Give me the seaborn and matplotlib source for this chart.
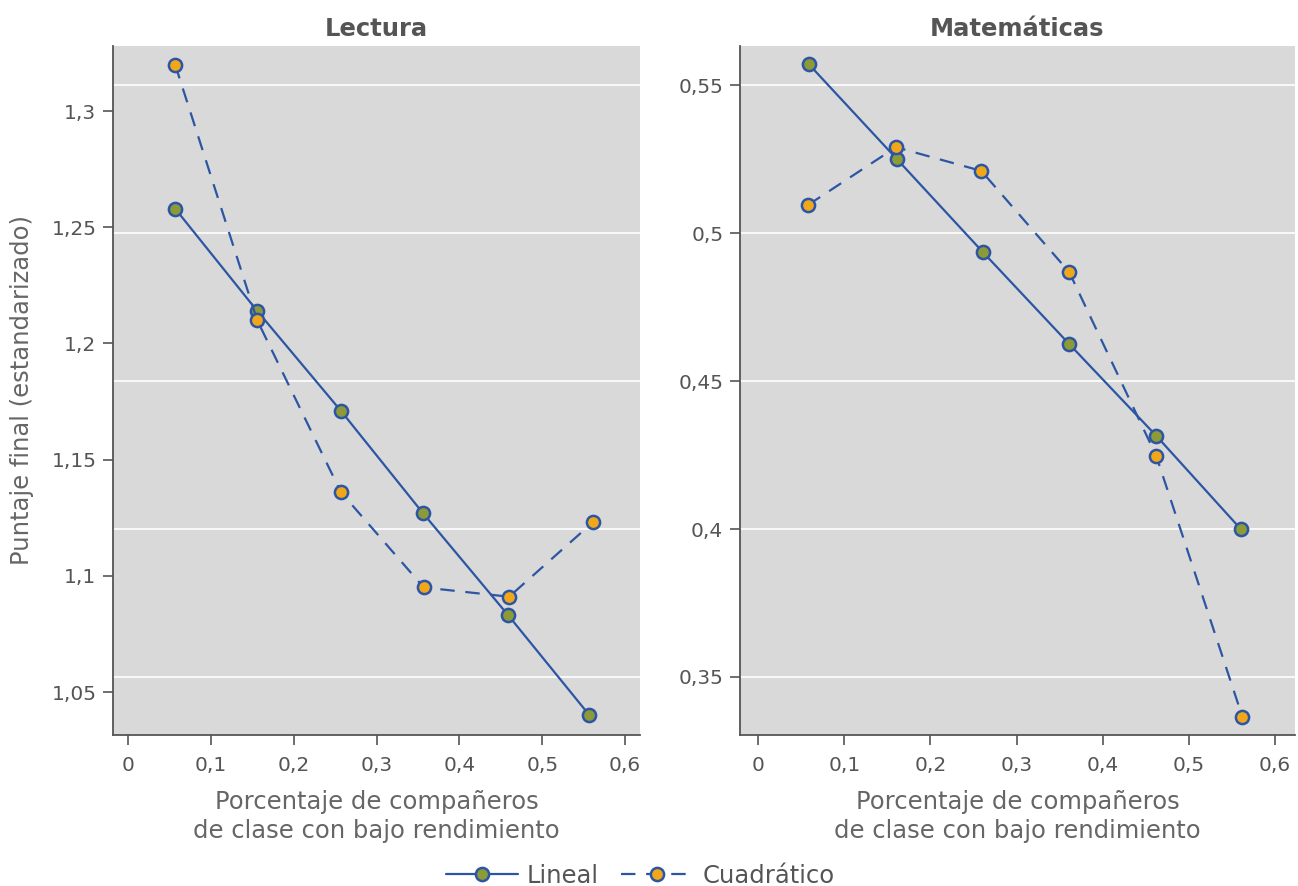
import matplotlib
matplotlib.use("Agg")
import matplotlib.pyplot as plt
from matplotlib.ticker import FuncFormatter
from matplotlib.lines import Line2D
import seaborn as sns
import pandas as pd
import numpy as np

# ---- data ----
panels = ["Lectura", "Matemáticas"]
lect_x_lin = [0.057, 0.156, 0.257, 0.356, 0.459, 0.557]
lect_y_lin = [1.258, 1.214, 1.171, 1.127, 1.083, 1.040]
lect_x_quad = [0.057, 0.156, 0.257, 0.357, 0.460, 0.561]
lect_y_quad = [1.320, 1.210, 1.136, 1.095, 1.091, 1.123]
mat_x_lin = [0.059, 0.161, 0.261, 0.361, 0.462, 0.560]
mat_y_lin = [0.557, 0.525, 0.4935, 0.4625, 0.4315, 0.400]
mat_x_quad = [0.058, 0.160, 0.259, 0.361, 0.462, 0.562]
mat_y_quad = [0.5095, 0.529, 0.521, 0.4868, 0.4247, 0.3365]
x_ticks = [0, 0.1, 0.2, 0.3, 0.4, 0.5, 0.6]
lect_ticks = [1.05, 1.1, 1.15, 1.2, 1.25, 1.3]
mat_ticks = [0.35, 0.4, 0.45, 0.5, 0.55]
series_names = ["Lineal", "Cuadrático"]

rows = []
for panel, xl, yl, xq, yq in [
    ("Lectura", lect_x_lin, lect_y_lin, lect_x_quad, lect_y_quad),
    ("Matemáticas", mat_x_lin, mat_y_lin, mat_x_quad, mat_y_quad),
]:
    for x, y in zip(xl, yl):
        rows.append((panel, "Lineal", x, y))
    for x, y in zip(xq, yq):
        rows.append((panel, "Cuadrático", x, y))
df = pd.DataFrame(rows, columns=["panel", "serie", "x", "y"])

# ---- style ----
sns.set_theme(style="white")
plt.rcParams["font.family"] = ["DejaVu Sans"]
TXT = "#555555"
BLUE = "#2c56a3"
GREEN = "#8c9a38"
ORANGE = "#f2a71b"
BG = "#d9d9d9"

fig = plt.figure(figsize=(12.98, 8.86), dpi=100)
W, H = 1298, 886
ax1 = fig.add_axes([113 / W, 1 - 735 / H, (640 - 113) / W, (735 - 46) / H])
ax2 = fig.add_axes([740 / W, 1 - 735 / H, (1295 - 740) / W, (735 - 46) / H])

ylims = {"Lectura": (1.0315, 1.328), "Matemáticas": (0.3304, 0.5632)}
xlims = {"Lectura": (-0.018, 0.618), "Matemáticas": (-0.021, 0.623)}
yticks = {"Lectura": lect_ticks, "Matemáticas": mat_ticks}

styles = {
    "Lineal": dict(linestyle="-", mfc=GREEN),
    "Cuadrático": dict(linestyle=(0, (6.5, 4.8)), mfc=ORANGE),
}

def fmt(v, pos):
    s = f"{v:.2f}".rstrip("0").rstrip(".")
    return s.replace(".", ",")

for ax, panel in [(ax1, "Lectura"), (ax2, "Matemáticas")]:
    ax.set_facecolor(BG)
    sub = df[df.panel == panel]
    for name in series_names:
        d = sub[sub.serie == name]
        st = styles[name]
        sns.lineplot(data=d, x="x", y="y", ax=ax, color=BLUE, linewidth=1.6,
                     linestyle=st["linestyle"], marker="o", markersize=9.5,
                     markerfacecolor=st["mfc"], markeredgecolor=BLUE,
                     markeredgewidth=1.8, sort=False, estimator=None, zorder=3)
    ax.set_xlim(*xlims[panel])
    ax.set_ylim(*ylims[panel])
    ax.set_xticks(x_ticks)
    ax.set_yticks(yticks[panel])
    ax.xaxis.set_major_formatter(FuncFormatter(fmt))
    ax.yaxis.set_major_formatter(FuncFormatter(fmt))
    ax.set_title(panel, fontsize=17.5, fontweight="semibold", color=TXT, pad=7)
    ax.set_xlabel("Porcentaje de compañeros\nde clase con bajo rendimiento",
                  fontsize=17.5, color="#666666", labelpad=11, linespacing=1.25)
    ax.set_ylabel("")
    for s in ["top", "right"]:
        ax.spines[s].set_visible(False)
    for s in ["left", "bottom"]:
        ax.spines[s].set_color(TXT)
        ax.spines[s].set_linewidth(1.3)
    ax.tick_params(axis="both", which="major", direction="out", length=7,
                   width=1.2, color=TXT, labelcolor=TXT, labelsize=14.5,
                   bottom=True, left=True, pad=5)
    ax.tick_params(axis="x", pad=8)

# gridlines: right panel at its ticks; left panel at same pixel heights (Stata style)
rlo, rhi = ylims["Matemáticas"]
llo, lhi = ylims["Lectura"]
for v in mat_ticks:
    ax2.axhline(v, color="white", linewidth=1.2, zorder=1)
    frac = (v - rlo) / (rhi - rlo)
    ax1.axhline(llo + frac * (lhi - llo), color="white", linewidth=1.2, zorder=1)

fig.text(22 / W, 1 - 390 / H, "Puntaje final (estandarizado)", rotation=90,
         ha="center", va="center", fontsize=17.5, color="#666666")

handles = [
    Line2D([0], [0], color=BLUE, linewidth=1.6, linestyle=styles[n]["linestyle"],
           marker="o", markersize=9.5, markerfacecolor=styles[n]["mfc"],
           markeredgecolor=BLUE, markeredgewidth=1.8)
    for n in series_names
]
fig.legend(handles, series_names, loc="center", bbox_to_anchor=(640 / W, 1 - 876 / H),
           ncol=2, frameon=False, fontsize=17.5, handlelength=3.0, columnspacing=0.9,
           handletextpad=0.35, labelcolor="#555555")

fig.savefig("out.png", dpi=100)
